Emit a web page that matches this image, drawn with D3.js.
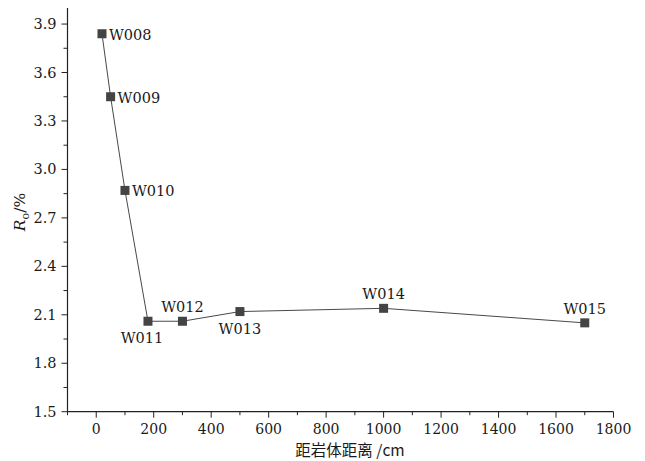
<!DOCTYPE html>
<html>
<head>
<meta charset="utf-8">
<script src="https://cdn.jsdelivr.net/npm/d3@7/dist/d3.min.js"></script>
<style>
  html, body { margin: 0; padding: 0; background: #fff; }
  svg { display: block; }
</style>
</head>
<body>
<svg id="chart" width="645" height="461"></svg>
<script>
// Data
const samples = ["W008", "W009", "W010", "W011", "W012", "W013", "W014", "W015"];
const distances = [20, 50, 100, 180, 300, 500, 1000, 1700];
const roValues = [3.84, 3.45, 2.87, 2.06, 2.06, 2.12, 2.14, 2.05];
const labelPos = ["right", "right", "right", "below", "above", "below", "above", "above"];
const xTicks = [0, 200, 400, 600, 800, 1000, 1200, 1400, 1600, 1800];
const yTicks = [1.5, 1.8, 2.1, 2.4, 2.7, 3.0, 3.3, 3.6, 3.9];
const xTitle = "距岩体距离 /cm";

const svg = d3.select("#chart");
const serif = "'DejaVu Serif', 'Liberation Serif', serif";

const x = d3.scaleLinear().domain([-100, 1800]).range([67.5, 613.5]);
const y = d3.scaleLinear().domain([1.5, 4.0]).range([411.7, 7.9]);

const axisColor = "#222";
const textColor = "#1a1a1a";

// X axis
const xAxisG = svg.append("g").attr("transform", `translate(0,${y(1.5)})`);
xAxisG.append("line").attr("x1", x(-100)).attr("x2", x(1800)).attr("stroke", axisColor).attr("stroke-width", 1.2);
const xMinor = d3.range(-100, 1801, 100).filter(v => xTicks.indexOf(v) < 0);
xAxisG.selectAll(".xminor").data(xMinor).enter().append("line")
  .attr("x1", d => x(d)).attr("x2", d => x(d)).attr("y1", 0).attr("y2", 3.5)
  .attr("stroke", axisColor).attr("stroke-width", 1);
xAxisG.selectAll(".xmajor").data(xTicks).enter().append("line")
  .attr("x1", d => x(d)).attr("x2", d => x(d)).attr("y1", 0).attr("y2", 6)
  .attr("stroke", axisColor).attr("stroke-width", 1);
xAxisG.selectAll(".xlab").data(xTicks).enter().append("text")
  .attr("x", d => x(d)).attr("y", 22.5)
  .attr("text-anchor", "middle")
  .attr("font-family", serif).attr("font-size", 14).attr("fill", textColor)
  .text(d => d);

// Y axis
const yAxisG = svg.append("g").attr("transform", `translate(${x(-100)},0)`);
yAxisG.append("line").attr("y1", y(1.5)).attr("y2", y(4.0)).attr("stroke", axisColor).attr("stroke-width", 1.2);
const yMinor = d3.range(0, 16).map(i => 1.5 + i * 0.15).filter((v, i) => i % 2 === 1);
yAxisG.selectAll(".yminor").data(yMinor).enter().append("line")
  .attr("x1", -4).attr("x2", 0).attr("y1", d => y(d)).attr("y2", d => y(d))
  .attr("stroke", axisColor).attr("stroke-width", 1);
yAxisG.selectAll(".ymajor").data(yTicks).enter().append("line")
  .attr("x1", -6).attr("x2", 0).attr("y1", d => y(d)).attr("y2", d => y(d))
  .attr("stroke", axisColor).attr("stroke-width", 1);
yAxisG.selectAll(".ylab").data(yTicks).enter().append("text")
  .attr("x", -11).attr("y", d => y(d)).attr("dy", "0.35em")
  .attr("text-anchor", "end")
  .attr("font-family", serif).attr("font-size", 14.5).attr("fill", textColor)
  .text(d => d.toFixed(1));

// Axis titles
svg.append("text")
  .attr("x", 350).attr("y", 455.5)
  .attr("text-anchor", "middle")
  .attr("font-family", "'Noto Sans CJK SC', sans-serif").attr("font-size", 15.5).attr("fill", textColor)
  .text(xTitle);

const yt = svg.append("text")
  .attr("transform", `translate(25,212) rotate(-90)`)
  .attr("text-anchor", "middle")
  .attr("font-family", serif).attr("font-size", 15.5).attr("fill", textColor);
yt.append("tspan").attr("font-style", "italic").text("R");
yt.append("tspan").attr("font-size", 11).attr("dy", 4).text("o");
yt.append("tspan").attr("dy", -4).text("/%");

// Line
const pts = distances.map((d, i) => ({ x: d, y: roValues[i], name: samples[i], pos: labelPos[i] }));
svg.append("path").datum(pts)
  .attr("fill", "none").attr("stroke", "#333").attr("stroke-width", 0.9)
  .attr("d", d3.line().x(d => x(d.x)).y(d => y(d.y)));

// Markers
const s = 9;
svg.selectAll(".pt").data(pts).enter().append("rect")
  .attr("x", d => x(d.x) - s / 2).attr("y", d => y(d.y) - s / 2)
  .attr("width", s).attr("height", s).attr("fill", "#444");

// Labels
svg.selectAll(".lab").data(pts).enter().append("text")
  .attr("font-family", serif).attr("font-size", 14.5).attr("fill", textColor)
  .attr("x", d => {
    if (d.pos === "right") return x(d.x) + 7;
    if (d.name === "W011") return x(d.x) - 6;
    return x(d.x);
  })
  .attr("y", d => {
    if (d.pos === "right") return y(d.y);
    if (d.pos === "below") return y(d.y) + 17;
    return y(d.y) - 14;
  })
  .attr("dy", d => d.pos === "right" ? "0.4em" : "0.35em")
  .attr("text-anchor", d => d.pos === "right" ? "start" : "middle")
  .text(d => d.name);
</script>
</body>
</html>
